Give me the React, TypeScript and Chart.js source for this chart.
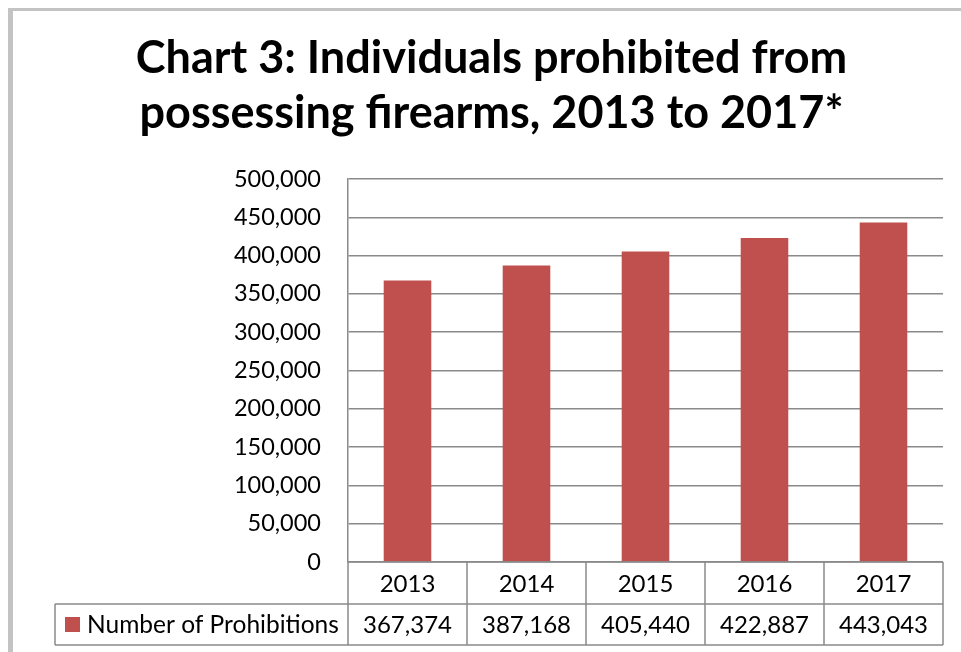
import React, { useEffect, useRef } from "react";
import { Chart, registerables } from "chart.js";

Chart.register(...registerables);

const titleLines = ["Chart 3: Individuals prohibited from", "possessing firearms, 2013 to 2017*"];
const years = ["2013", "2014", "2015", "2016", "2017"];
const prohibitions = [367374, 387168, 405440, 422887, 443043];
const seriesName = "Number of Prohibitions";
const yMax = 500000;
const yStep = 50000;

const FONT = "Lato, 'Open Sans', sans-serif";
const BAR = "#C0504D";
const GRID = "#8a8a8a";

const fmt = (v: number) => v.toLocaleString("en-US");

const tablePlugin = {
  id: "dataTable",
  beforeDraw(chart: any) {
    const ctx = chart.ctx;
    ctx.save();
    ctx.fillStyle = "#ffffff";
    ctx.fillRect(0, 0, chart.width, chart.height);
    ctx.fillStyle = "#c3c3c3";
    ctx.fillRect(8, 8, 5, chart.height - 8);
    ctx.fillRect(8, 8, chart.width - 8, 3);
    ctx.restore();
  },
  afterDraw(chart: any) {
    const ctx = chart.ctx;
    const area = chart.chartArea;
    const xs = chart.scales.x;
    const n = years.length;
    const colW = (area.right - area.left) / n;
    const row1Top = area.bottom;
    const row1Bot = row1Top + 42;
    const row2Bot = row1Bot + 41;
    const legendLeft = 55;
    ctx.save();
    ctx.strokeStyle = GRID;
    ctx.lineWidth = 1.5;
    ctx.beginPath();
    ctx.moveTo(area.left, row1Top);
    ctx.lineTo(area.right, row1Top);
    ctx.moveTo(legendLeft, row1Bot);
    ctx.lineTo(area.right, row1Bot);
    ctx.moveTo(legendLeft, row2Bot);
    ctx.lineTo(area.right, row2Bot);
    for (let i = 0; i <= n; i++) {
      const x = area.left + colW * i;
      ctx.moveTo(x, row1Top);
      ctx.lineTo(x, row2Bot);
    }
    ctx.moveTo(legendLeft, row1Bot);
    ctx.lineTo(legendLeft, row2Bot);
    ctx.stroke();

    ctx.fillStyle = "#000";
    ctx.font = `24px ${FONT}`;
    ctx.textAlign = "center";
    ctx.textBaseline = "middle";
    for (let i = 0; i < n; i++) {
      const cx = xs.getPixelForValue(i);
      ctx.fillText(years[i], cx, (row1Top + row1Bot) / 2 + 1);
      ctx.fillText(fmt(prohibitions[i]), cx, (row1Bot + row2Bot) / 2 + 1);
    }
    const ly = (row1Bot + row2Bot) / 2;
    ctx.fillStyle = BAR;
    ctx.fillRect(65, ly - 7.5, 15, 15);
    ctx.fillStyle = "#000";
    ctx.textAlign = "left";
    ctx.font = `24.5px ${FONT}`;
    ctx.fillText(seriesName, 87, ly + 1);
    ctx.restore();
  },
};

export default function App() {
  const ref = useRef<HTMLCanvasElement>(null);
  useEffect(() => {
    if (!ref.current) return;
    const chart = new Chart(ref.current, {
      type: "bar",
      data: {
        labels: years,
        datasets: [
          {
            label: seriesName,
            data: prohibitions,
            backgroundColor: BAR,
            borderWidth: 0,
            barPercentage: 0.4,
            categoryPercentage: 1,
          },
        ],
      },
      options: {
        animation: false,
        responsive: false,
        devicePixelRatio: 1,
        layout: { padding: { left: 40, right: 18, top: 0, bottom: 90 } },
        plugins: {
          legend: { display: false },
          tooltip: { enabled: false },
          title: {
            display: true,
            text: titleLines,
            color: "#000",
            font: { family: FONT, size: 45, weight: "bold", lineHeight: 1.244 },
            padding: { top: 30, bottom: 37 },
          },
        },
        scales: {
          x: { display: false },
          y: {
            min: 0,
            max: yMax,
            afterFit: (scale: any) => {
              scale.width = 308;
            },
            ticks: {
              stepSize: yStep,
              color: "#000",
              padding: 27,
              font: { family: FONT, size: 23.5 },
              callback: (v: any) => fmt(Number(v)),
            },
            grid: { color: GRID, lineWidth: 1.5, drawTicks: false, tickLength: 0 },
            border: { display: true, color: GRID, width: 1.5 },
          },
        },
      },
      plugins: [tablePlugin],
    });
    return () => chart.destroy();
  }, []);
  return (
    <div style={{ position: "absolute", left: 0, top: 0, width: 961, height: 652 }}>
      <canvas ref={ref} width={961} height={652} style={{ display: "block", width: 961, height: 652 }} />
    </div>
  );
}
